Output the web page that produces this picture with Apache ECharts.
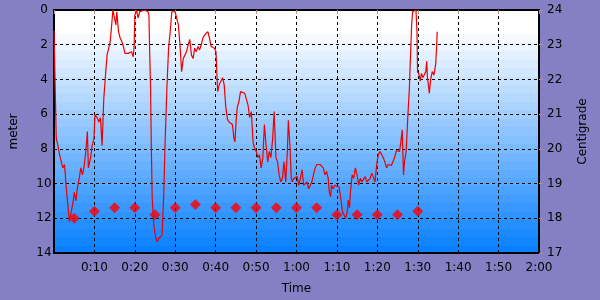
<!DOCTYPE html>
<html>
<head>
<meta charset="utf-8">
<script src="https://cdn.jsdelivr.net/npm/echarts@6/dist/echarts.min.js"></script>
<style>html,body{margin:0;padding:0;background:#8480c4;}#c{width:600px;height:300px;}</style>
</head>
<body>
<div id="c"></div>
<script>
// Dive profile: time in minutes, depth in meters
const depthTimes = [0,0.17,0.56,0.97,1.38,2.19,2.60,2.99,3.40,3.81,4.20,4.62,5.03,5.42,5.83,6.24,6.63,7.04,7.46,7.85,8.26,8.50,9.06,9.47,9.89,10.13,10.69,11.10,11.49,11.90,12.15,12.32,12.70,13.12,13.53,13.92,14.33,14.57,14.99,15.30,15.55,15.96,16.35,16.76,17.17,17.56,18.39,19.19,19.60,19.85,19.99,20.40,20.82,21.21,21.62,22.42,23.25,23.49,23.68,23.88,24.05,24.29,24.70,25.09,25.51,25.92,26.31,26.72,27.13,27.52,27.93,28.35,28.74,29.15,29.56,29.95,30.36,30.78,31.17,31.58,31.99,32.38,32.79,33.21,33.59,34.01,34.42,34.81,35.22,35.63,36.02,36.44,36.85,37.24,37.65,38.06,38.45,38.87,39.28,39.67,40.08,40.49,40.88,41.29,41.71,42.10,42.51,42.92,43.31,43.72,44.14,44.53,44.77,45.11,45.35,45.74,46.15,46.57,47.20,47.61,48.02,48.41,48.83,49.24,49.63,50.04,50.45,50.84,51.25,51.67,52.06,52.47,52.88,53.27,53.68,54.10,54.48,54.90,55.31,55.70,56.11,56.52,56.91,57.33,57.74,57.98,58.37,58.71,58.95,59.34,59.76,60.17,60.56,60.97,61.38,61.77,62.18,62.60,62.99,63.40,63.81,64.20,64.61,65.03,65.42,65.83,66.24,66.63,67.04,67.46,67.85,68.09,68.43,68.67,69.06,69.47,69.89,70.52,70.93,71.34,71.73,72.14,72.56,72.80,73.12,73.36,73.77,74.16,74.57,74.99,75.38,75.79,76.20,76.59,77.00,77.42,77.80,78.22,78.63,79.02,79.43,79.85,80.23,80.65,81.06,81.45,81.86,82.28,82.66,83.08,83.49,83.88,84.29,84.70,85.09,85.50,85.92,86.16,86.48,86.72,87.13,87.52,87.93,88.18,88.49,88.74,89.15,89.56,89.81,89.95,90.36,90.61,90.92,91.26,91.58,91.99,92.23,92.38,92.62,92.86,93.20,93.59,94.01,94.42,94.66,94.81];
const depths = [1.2,1.25,7.4,7.8,8.35,9.1,8.9,10.1,11.2,12.2,12.3,11.2,10.5,11.0,10.2,9.7,9.1,9.5,9.0,8.2,7.0,9.1,8.5,7.8,7.4,6.05,6.2,6.45,6.2,7.8,6.2,5.1,3.9,2.6,2.2,1.8,0.7,0,0,0.86,0.1,1.25,1.6,1.8,2.1,2.5,2.5,2.4,2.7,2.0,0.3,0,0.45,0.1,0,0,0.1,0.3,2.5,4.3,7.4,10.8,12.4,13.0,13.35,13.15,13.05,13.0,10.8,7.4,4.5,2.2,1.25,0.1,0,0.1,0,0.86,2.0,3.55,2.8,2.6,2.4,2.0,1.7,2.6,2.8,2.2,2.4,2.1,2.3,2.0,1.6,1.45,1.5,1.25,1.6,2.1,2.0,2.2,2.4,4.7,4.3,4.1,3.9,4.3,5.6,6.3,6.45,6.5,6.6,7.4,7.6,6.2,5.6,5.3,4.7,4.8,4.8,4.9,5.5,6.2,5.85,7.6,7.95,8.15,8.5,8.35,9.1,8.5,6.6,7.8,8.75,8.15,8.5,7.4,5.85,8.5,8.75,9.5,9.9,9.7,8.75,9.9,8.15,6.35,7.8,9.7,9.9,9.7,9.8,9.6,10.1,9.7,9.2,10.1,10.2,9.9,10.3,10.1,9.9,9.5,9.1,8.9,8.8,8.9,8.8,9.1,9.5,9.3,9.7,10.45,10.75,10.1,10.3,10.1,10.2,10.2,10.8,11.6,11.8,12.0,11.6,10.95,11.4,10.45,9.5,9.7,9.1,9.5,10.1,9.7,9.9,9.8,9.6,9.9,9.8,9.7,9.4,9.5,9.9,8.9,8.35,8.15,8.1,8.5,8.75,9.1,8.9,8.9,8.95,8.9,8.5,8.1,8.0,8.15,7.4,6.9,9.5,8.75,8.15,6.25,4.5,2.8,0.86,0.1,0,0,1.25,3.55,3.75,4.1,3.65,3.9,3.75,3.55,2.95,3.85,4.3,4.8,4.0,3.55,3.75,3.15,2.2,1.25];
// Water temperature samples (every 5 minutes), Centigrade
const tempTimes = [5,10,15,20,25,30,35,40,45,50,55,60,65,70,75,80,85,90];
const temps = [18.0,18.2,18.3,18.3,18.1,18.3,18.4,18.3,18.3,18.3,18.3,18.3,18.3,18.1,18.1,18.1,18.1,18.2];

const depthData = depthTimes.map((t,i)=>[t, depths[i]]);
const tempData = tempTimes.map((t,i)=>[t, temps[i]]);

function fmtTime(v){
  if (v === 0) return '';
  const h = Math.floor(v/60), m = Math.round(v%60);
  return h + ':' + (m<10?'0':'') + m;
}

// banded background gradient (style only)
const bands = 29, stops = [];
for (let i = 0; i < bands; i++) {
  const f = Math.max(0, (i - 2) / (bands - 3));
  const r = Math.round(255 - 245 * f), g = Math.round(255 - 127 * f);
  const c = 'rgb(' + r + ',' + g + ',255)';
  stops.push({offset: i / bands, color: c});
  stops.push({offset: (i + 1) / bands, color: c});
}

const chart = echarts.init(document.getElementById('c'), null, {renderer:'canvas'});
const font = 'DejaVu Sans';
const dashed = {show:true, lineStyle:{color:'#000', type:[3,3], width:1}};
chart.setOption({
  animation:false,
  backgroundColor:'#8480c4',
  textStyle:{fontFamily:font},
  grid:{left:45, right:61, top:10, bottom:47, show:true, borderColor:'#000', borderWidth:2,
    backgroundColor:{type:'linear', x:0, y:0, x2:0, y2:1, colorStops:stops}},
  xAxis:{type:'value', min:0, max:120, interval:10,
    name:'Time', nameLocation:'middle', nameGap:30, nameTextStyle:{color:'#000', fontSize:12, fontFamily:font},
    axisLine:{show:false}, axisTick:{show:true, length:4, lineStyle:{color:'#b09090'}},
    axisLabel:{formatter:fmtTime, color:'#000', fontSize:12, fontFamily:font, margin:9},
    splitLine:dashed},
  yAxis:[
    {type:'value', min:0, max:14, interval:2, inverse:true,
     name:'meter', nameLocation:'middle', nameGap:34, nameRotate:90, nameTextStyle:{color:'#000', fontSize:12, fontFamily:font},
     axisLine:{show:false}, axisTick:{show:false},
     axisLabel:{color:'#000', fontSize:12, fontFamily:font, margin:10, align:'center'},
     splitLine:dashed},
    {type:'value', min:17, max:24, interval:1, position:'right',
     name:'Centigrade', nameLocation:'middle', nameGap:38, nameRotate:90, nameTextStyle:{color:'#000', fontSize:12, fontFamily:font},
     axisLine:{show:false}, axisTick:{show:true, length:4, lineStyle:{color:'#b09090'}},
     axisLabel:{color:'#000', fontSize:12, fontFamily:font, margin:8},
     splitLine:{show:false}}
  ],
  series:[
    {type:'line', data:depthData, yAxisIndex:0, showSymbol:false, symbol:'none',
     lineStyle:{color:'#ee0000', width:1.2}, z:3},
    {type:'scatter', data:tempData, yAxisIndex:1, symbol:'diamond', symbolSize:11,
     itemStyle:{color:'#ff0000'}, z:4}
  ]
});
</script>
</body>
</html>
